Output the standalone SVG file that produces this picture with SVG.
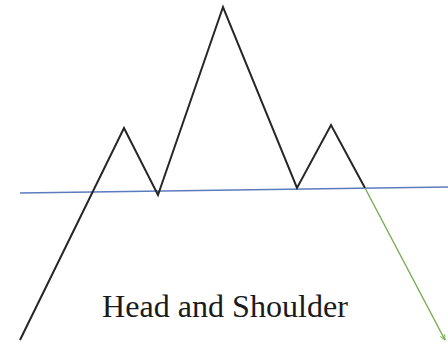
<svg xmlns="http://www.w3.org/2000/svg" width="448" height="344" viewBox="0 0 448 344">
<style>
.price{fill:none;stroke:#262626;stroke-width:2;stroke-linejoin:miter}
.neck{stroke:#5b7bbd;stroke-width:1.6}
.break{stroke:#76ad52;stroke-width:1.4}
.label{font-family:"Liberation Serif","Times New Roman",serif;font-size:31px;fill:#1a1a1a}
</style>
<defs>
<marker id="ah" viewBox="0 0 10 10" refX="9" refY="5" markerWidth="6" markerHeight="6" orient="auto" markerUnits="userSpaceOnUse">
<path d="M0,1 L9,5 L0,9" fill="none" stroke="#76ad52" stroke-width="1.6"/>
</marker>
</defs>
<rect width="448" height="344" fill="#fff"/>
<g id="connectors">
<line id="neckline" class="neck" x1="20" y1="193" x2="448" y2="187"/>
<polyline id="price-path" class="price" points="20,340 124,128 158,195 223,7 297,188 331,125 365,188"/>
<line id="breakdown" class="break" x1="365" y1="188" x2="445" y2="340" marker-end="url(#ah)"/>
</g>
<g id="title">
<text class="label" x="102" y="317" textLength="246" lengthAdjust="spacingAndGlyphs">Head and Shoulder</text>
</g>
</svg>
